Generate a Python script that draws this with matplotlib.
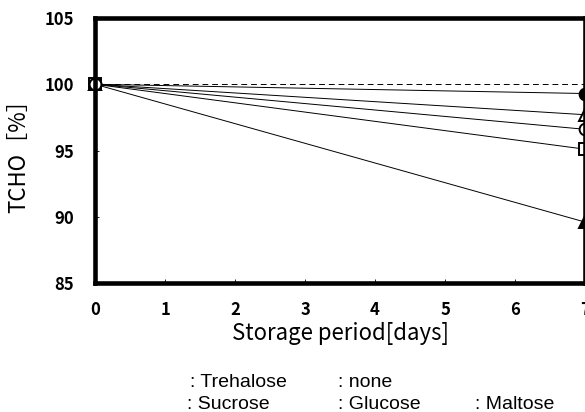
import matplotlib
matplotlib.use('Agg')
import matplotlib.pyplot as plt

plt.rcParams['font.family'] = ['Noto Sans CJK JP', 'DejaVu Sans']

# === Données
days = [0, 7]
trehalose = [100, 99.3]
sucrose = [100, 97.7]
glucose = [100, 96.6]
maltose = [100, 95.1]
none = [100, 89.6]
reference = [100, 100]

# ordre de tracé : le cercle ouvert en dernier (au-dessus à t=0)
series = [
    (maltose, 's', 'white'),
    (sucrose, '^', 'white'),
    (trehalose, 'o', 'black'),
    (none, '^', 'black'),
    (glucose, 'o', 'white'),
]

fig = plt.figure(figsize=(5.85, 4.12), dpi=100)
ax = fig.add_axes([0.1624, 0.3131, 0.8376, 0.6432])

ax.plot(days, reference, color='black', lw=0.7, ls=(0, (6, 4)))
for values, marker, face in series:
    ax.plot(days, values, color='black', lw=0.7, marker=marker, ms=8.5,
            mfc=face, mec='black', mew=1.4, clip_on=False)

ax.set_xlim(0, 7)
ax.set_ylim(85, 105)
ax.set_xticks(range(8))
ax.set_yticks([85, 90, 95, 100, 105])
ax.tick_params(direction='in', length=3, width=0.6, labelsize=12)
ax.tick_params(axis='x', pad=13)
ax.tick_params(axis='y', pad=15)
for lab in ax.get_xticklabels() + ax.get_yticklabels():
    lab.set_fontweight('bold')
for sp in ax.spines.values():
    sp.set_linewidth(3.3)

ax.set_xlabel('Storage period[days]', fontsize=16, labelpad=2)
ax.set_ylabel('TCHO［%］', fontsize=16)
ax.yaxis.set_label_coords(-0.133, 0.5)

# Légende (texte seulement)
leg_font = dict(fontsize=14, family='Liberation Sans', va='baseline', ha='left')
fig.text(190 / 585, 1 - 387 / 412, ': Trehalose', **leg_font)
fig.text(338 / 585, 1 - 387 / 412, ': none', **leg_font)
fig.text(187 / 585, 1 - 409 / 412, ': Sucrose', **leg_font)
fig.text(338 / 585, 1 - 409 / 412, ': Glucose', **leg_font)
fig.text(475 / 585, 1 - 409 / 412, ': Maltose', **leg_font)

fig.savefig('out.png', dpi=100)
